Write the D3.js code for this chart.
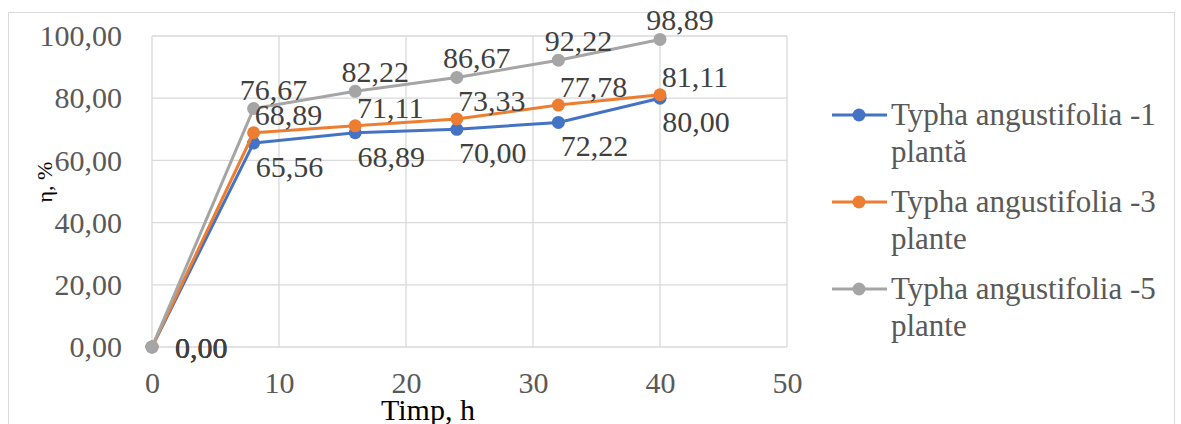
<!DOCTYPE html>
<meta charset="utf-8">
<style>
  body { margin: 0; background: #fff; }
  svg { display: block; }
  svg text { font-family: "Liberation Serif", "Times New Roman", serif; }
  .grid line { stroke: #d9d9d9; stroke-width: 1.3px; }
  .axis text { fill: #595959; font-size: 30px; }
  .axis path, .axis line { display: none; }
  .line { fill: none; stroke-width: 3px; }
  .lbl { fill: #404040; font-size: 30px; }
  .legend text { fill: #595959; font-size: 31px; }
</style>
<body>
<script src="https://cdn.jsdelivr.net/npm/d3@7"></script>
<script>

  // data
  var hours = [0, 8, 16, 24, 32, 40];
  var plant1 = [0, 65.56, 68.89, 70.00, 72.22, 80.00];
  var plant3 = [0, 68.89, 71.11, 73.33, 77.78, 81.11];
  var plant5 = [0, 76.67, 82.22, 86.67, 92.22, 98.89];
  var seriesNames = [["Typha angustifolia -1", "plantă"], ["Typha angustifolia -3", "plante"], ["Typha angustifolia -5", "plante"]];
  var xTicks = [0, 10, 20, 30, 40, 50];
  var yTicks = [0, 20, 40, 60, 80, 100];

  var colors = ["#4472c4", "#ed7d31", "#a5a5a5"];
  // label offsets per series (dx to text centre, dy to baseline)
  var labelPos = [{dx: 36, dy: 34}, {dx: 35, dy: -8}, {dx: 20, dy: -9}];

  var W = 1181, H = 424;
  var x = d3.scaleLinear().domain([0, 50]).range([152, 787]);
  var y = d3.scaleLinear().domain([0, 100]).range([347, 36]);

  var fmt = function(v) { return d3.format(".2f")(v).replace(".", ","); };

  var svg = d3.select("body").append("svg")
    .attr("width", W).attr("height", H);

  // chart border
  svg.append("rect")
    .attr("x", 8.5).attr("y", 12.5)
    .attr("width", 1166).attr("height", 420)
    .attr("fill", "none").attr("stroke", "#d9d9d9");

  var grid = svg.append("g").attr("class", "grid");
  grid.selectAll(".h").data(yTicks).enter().append("line")
    .attr("x1", x(0)).attr("x2", x(50))
    .attr("y1", function(d) { return y(d); }).attr("y2", function(d) { return y(d); });
  grid.selectAll(".v").data(xTicks).enter().append("line")
    .attr("y1", y(0)).attr("y2", y(100))
    .attr("x1", function(d) { return x(d); }).attr("x2", function(d) { return x(d); });

  svg.append("g").attr("class", "axis")
    .attr("transform", "translate(" + x(0) + ",0)")
    .call(d3.axisLeft(y).tickValues(yTicks).tickSize(0).tickPadding(30).tickFormat(fmt));

  svg.append("g").attr("class", "axis")
    .attr("transform", "translate(0," + y(0) + ")")
    .call(d3.axisBottom(x).tickValues(xTicks).tickSize(0).tickPadding(25));

  svg.append("text")
    .attr("x", 428).attr("y", 420)
    .attr("text-anchor", "middle")
    .style("font-size", "30px")
    .text("Timp, h");

  svg.append("text")
    .attr("transform", "translate(52,182) rotate(-90)")
    .attr("text-anchor", "middle")
    .style("font-size", "22px")
    .text("η, %");

  var all = [plant1, plant3, plant5];
  var line = d3.line()
    .x(function(d, i) { return x(hours[i]); })
    .y(function(d) { return y(d); });

  all.forEach(function(vals, s) {
    var g = svg.append("g");
    g.append("path").datum(vals)
      .attr("class", "line")
      .attr("stroke", colors[s])
      .attr("d", line);
    g.selectAll("circle").data(vals).enter().append("circle")
      .attr("cx", function(d, i) { return x(hours[i]); })
      .attr("cy", function(d) { return y(d); })
      .attr("r", 6.5)
      .attr("fill", colors[s]);
  });

  all.forEach(function(vals, s) {
    svg.append("g").selectAll("text").data(vals).enter().append("text")
      .attr("class", "lbl")
      .attr("text-anchor", function(d, i) { return i === 0 ? "start" : "middle"; })
      .attr("x", function(d, i) { return x(hours[i]) + (i === 0 ? 23 : labelPos[s].dx); })
      .attr("y", function(d, i) { return y(d) + (i === 0 ? 11 : labelPos[s].dy); })
      .text(fmt);
  });

  // legend
  var leg = svg.append("g").attr("class", "legend");
  seriesNames.forEach(function(nm, s) {
    var ly = 115 + s * 87;
    leg.append("line")
      .attr("x1", 832).attr("x2", 887)
      .attr("y1", ly).attr("y2", ly)
      .attr("stroke", colors[s]).attr("stroke-width", 3);
    leg.append("circle")
      .attr("cx", 859).attr("cy", ly).attr("r", 6.5)
      .attr("fill", colors[s]);
    leg.append("text").attr("x", 891).attr("y", ly + 10).text(nm[0]);
    leg.append("text").attr("x", 891).attr("y", ly + 47).text(nm[1]);
  });

</script>
</body>
